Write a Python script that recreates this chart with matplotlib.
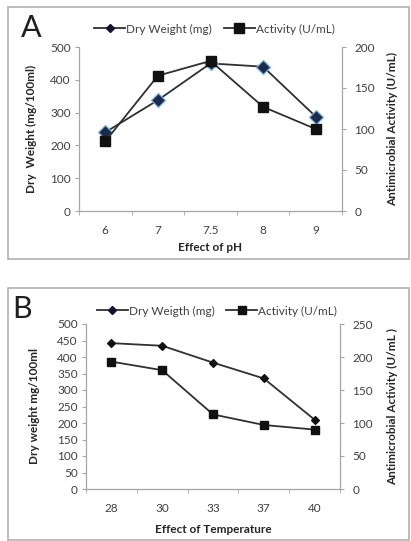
import matplotlib
matplotlib.use("Agg")
import matplotlib.pyplot as plt
from matplotlib.lines import Line2D
from matplotlib.patches import Rectangle
import numpy as np

plt.rcParams['font.family'] = ['Lato', 'DejaVu Sans']

# ---- data ----
ph_labels = ['6', '7', '7.5', '8', '9']
ph_dry = [240, 338, 450, 440, 288]
ph_act = [85, 165, 183, 127, 100]

temp_labels = ['28', '30', '33', '37', '40']
temp_dry = [442, 434, 383, 335, 210]
temp_act = [193, 180, 113, 97, 90]

W, H = 411, 541
fig = plt.figure(figsize=(W / 100, H / 100), dpi=100)

GRAY = '#a6a6a6'
TXT = '#404040'
LINE = '#303030'
FS = 8.5


def fx(px):
    return px / W


def fy(py):
    return 1 - py / H


def panel(rect, labels, dry, act, ymax_r, ystep_l, ystep_r, xlabel, ylab_l, ylab_r,
          dmarker_size, dcolor, dedge, smarker_size, ylab_lx, ylab_rx, xlab_y, leg_names, leg_y,
          leg_dms, leg_sms, letter, letter_xy):
    x0, y0, x1, y1 = rect
    ax = fig.add_axes([fx(x0), fy(y1), fx(x1) - fx(x0), fy(y0) - fy(y1)])
    ax2 = ax.twinx()
    x = np.arange(len(labels))
    ax.plot(x, dry, color=LINE, lw=1.3, marker='D', ms=dmarker_size,
            mfc=dcolor, mec=dedge, mew=0.9, zorder=3)
    ax2.plot(x, act, color=LINE, lw=1.3, marker='s', ms=smarker_size,
             mfc='#111111', mec='#111111', zorder=3)
    ax.set_xlim(-0.5, len(labels) - 0.5)
    ax.set_ylim(0, 500)
    ax2.set_ylim(0, ymax_r)
    ax.set_yticks(np.arange(0, 501, ystep_l))
    ax2.set_yticks(np.arange(0, ymax_r + 1, ystep_r))
    ax.set_xticks(x)
    ax.set_xticklabels(labels)
    ax.set_xticks(np.arange(-0.5, len(labels), 1.0), minor=True)
    ax.tick_params(axis='x', which='major', length=0, pad=10, labelsize=FS, labelcolor=TXT)
    ax.tick_params(axis='x', which='minor', length=3, direction='out', color=GRAY)
    ax.tick_params(axis='y', length=3, direction='out', color=GRAY, pad=3,
                   labelsize=FS, labelcolor=TXT)
    ax2.tick_params(axis='y', length=3, direction='out', color=GRAY, pad=6,
                    labelsize=FS, labelcolor=TXT)
    for a in (ax, ax2):
        a.spines['top'].set_visible(False)
        for s in ('left', 'right', 'bottom'):
            a.spines[s].set_color(GRAY)
            a.spines[s].set_linewidth(0.9)
    ax.spines['right'].set_visible(False)
    ax2.spines['left'].set_visible(False)
    ax2.spines['bottom'].set_visible(False)
    ax.set_xlabel(xlabel, fontsize=FS, fontweight='bold', color='#262626')
    ax.xaxis.set_label_coords(0.5, xlab_y)
    ax.set_ylabel(ylab_l, fontsize=FS, fontweight='bold', color='#262626')
    ax.yaxis.set_label_coords(ylab_lx, 0.5)
    ax2.set_ylabel(ylab_r, fontsize=FS, fontweight='bold', color='#262626', rotation=90)
    ax2.yaxis.set_label_coords(ylab_rx, 0.5)
    h1 = Line2D([], [], color=LINE, lw=1.3, marker='D', ms=leg_dms, mfc='#111133', mec='#111133')
    h2 = Line2D([], [], color=LINE, lw=1.3, marker='s', ms=leg_sms, mfc='#111111', mec='#111111')
    fig.legend([h1, h2], leg_names, loc='center', bbox_to_anchor=(fx((x0 + x1) / 2 + 4), fy(leg_y)),
               ncol=2, frameon=False, fontsize=FS, handlelength=2.6, columnspacing=1.0,
               handletextpad=0.1, labelcolor=TXT)
    fig.text(fx(letter_xy[0]), fy(letter_xy[1]), letter, fontsize=22, ha='left', va='center', color='#202020')
    return ax


# boxes
fig.add_artist(Rectangle((fx(8), fy(259)), fx(409) - fx(8), fy(7) - fy(259),
                         transform=fig.transFigure, fill=False, ec='#b0b0b0', lw=1.2))
fig.add_artist(Rectangle((fx(8), fy(540)), fx(409) - fx(8), fy(288) - fy(540),
                         transform=fig.transFigure, fill=False, ec='#b0b0b0', lw=1.2))

panel((79, 47, 342, 211), ph_labels, ph_dry, ph_act, 200, 100, 50, 'Effect of pH',
      'Dry  Weight (mg/100ml)', 'Antimicrobial Activity (U/mL)',
      7, '#1a2a4a', '#7ab0e0', 7.5, -0.16, 1.17, -0.19,
      ['Dry Weight (mg)', 'Activity (U/mL)'], 29, 4.5, 7, 'A', (21, 28))

panel((86, 324, 340, 489), temp_labels, temp_dry, temp_act, 250, 50, 50, 'Effect of Temperature',
      'Dry weight mg/100ml', 'Antimicrobial Activity (U/mL )',
      4.5, '#111111', '#111111', 5.5, -0.18, 1.185, -0.21,
      ['Dry Weigth (mg)', 'Activity (U/mL)'], 311, 4, 5.5, 'B', (12, 309))

fig.savefig('out.png', dpi=100)
